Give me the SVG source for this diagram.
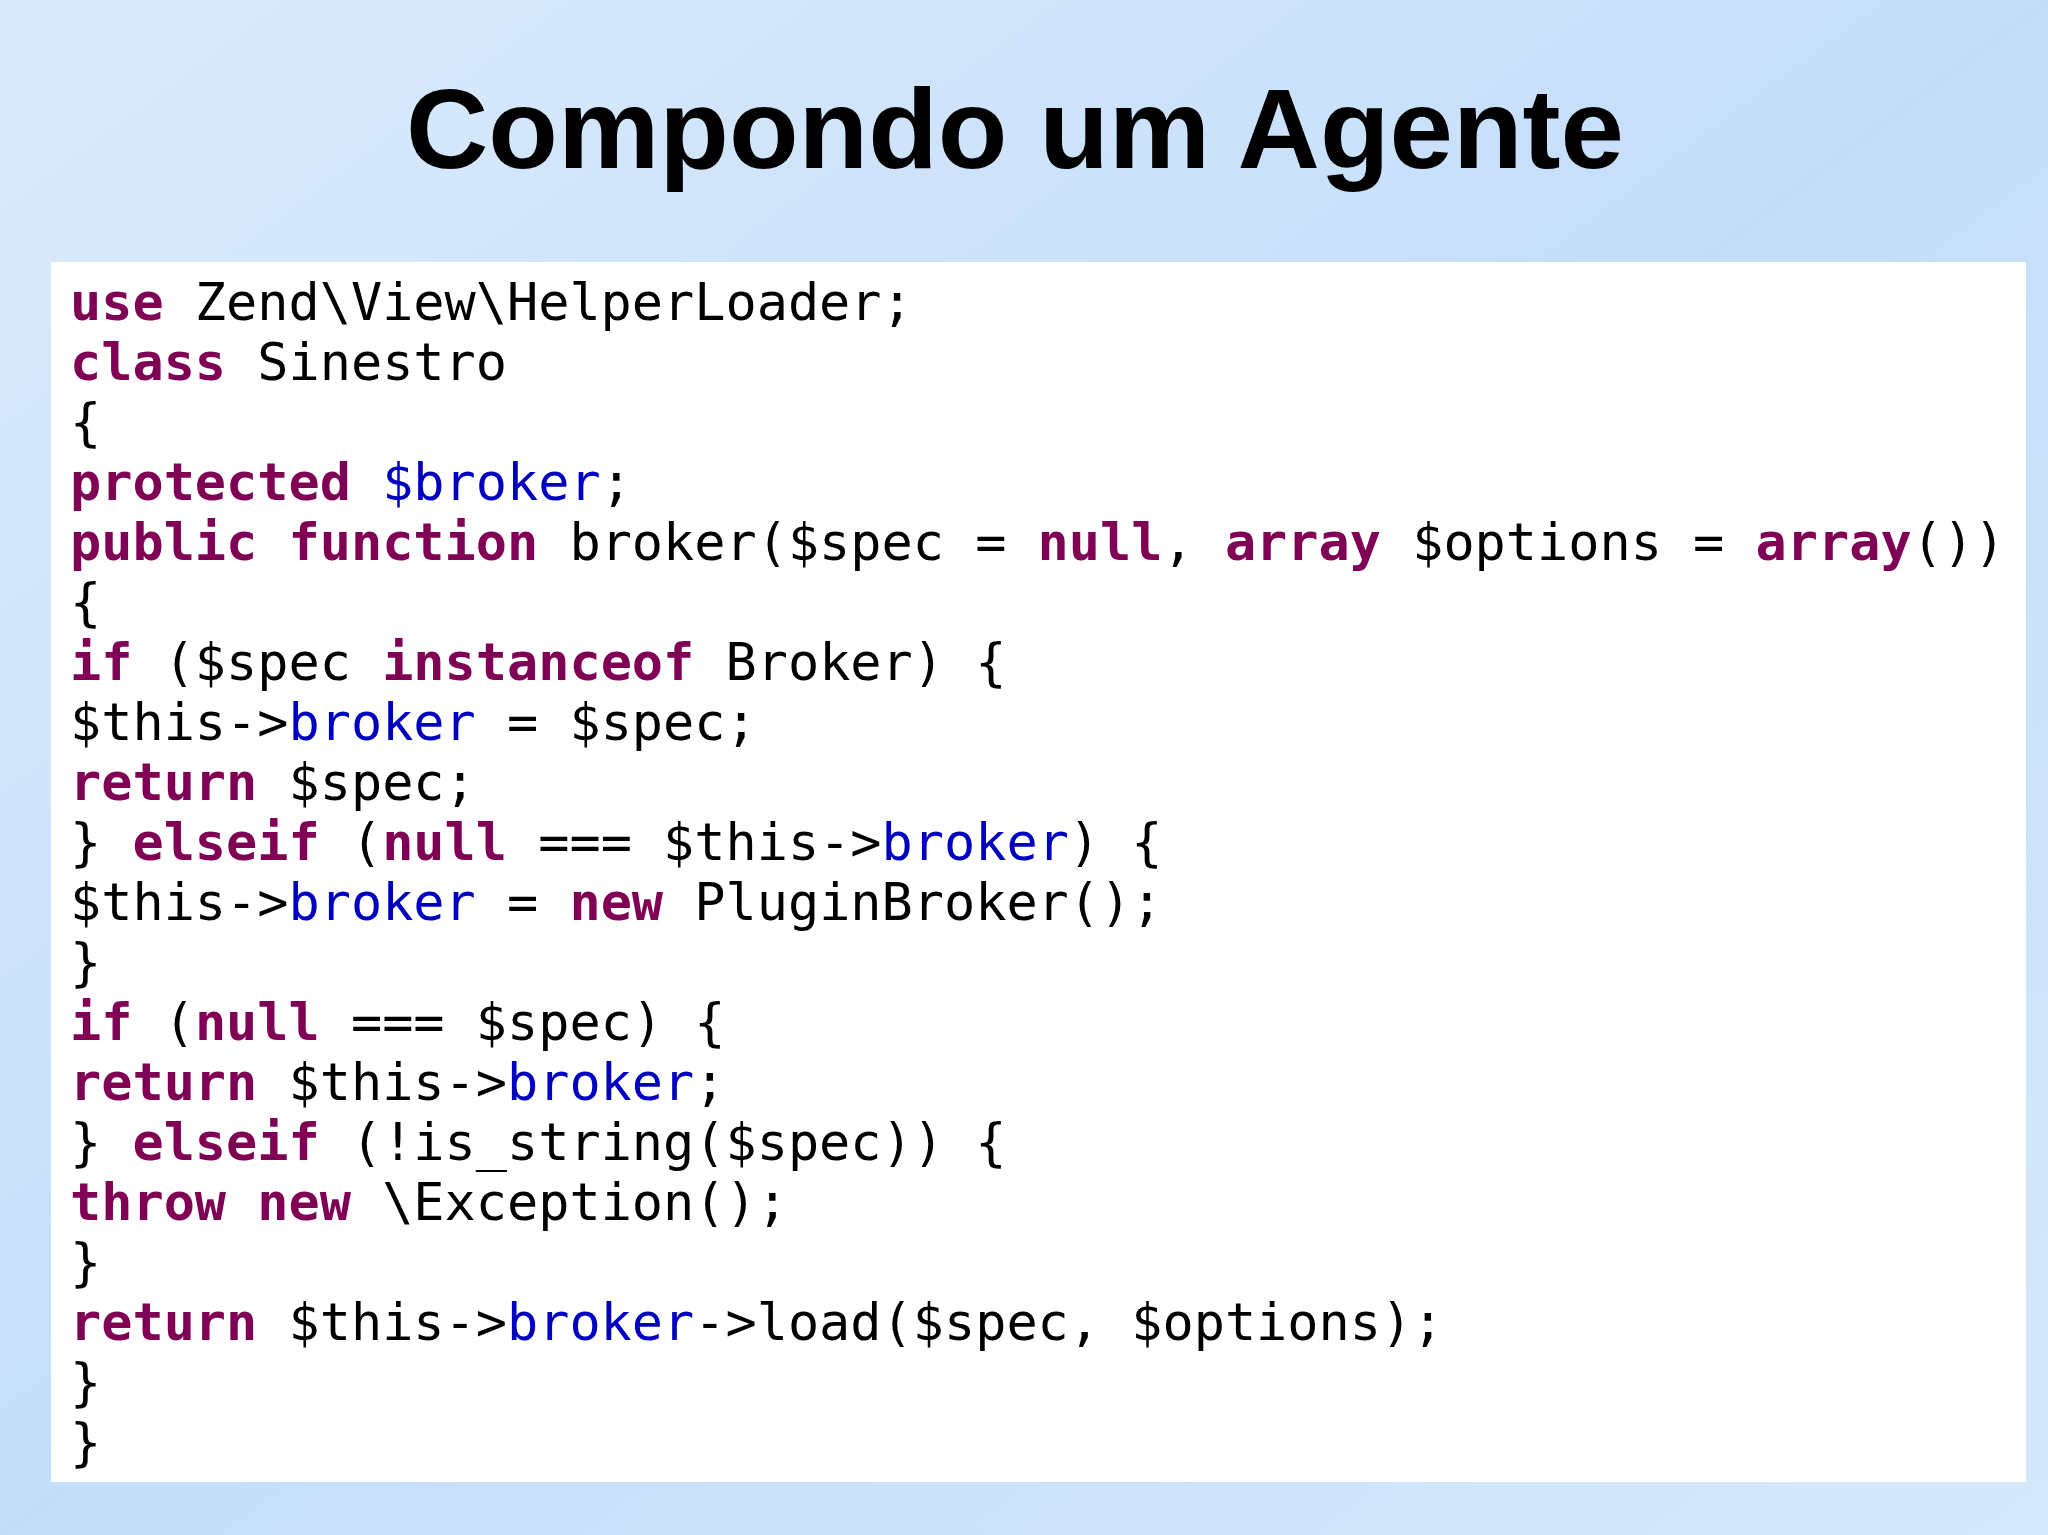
<svg xmlns="http://www.w3.org/2000/svg" width="2048" height="1535" viewBox="0 0 2048 1535">
<defs>
<linearGradient id="bg" x1="0" y1="0" x2="1" y2="1">
<stop offset="0" stop-color="#dcebfb"/><stop offset="0.5" stop-color="#c4defa"/><stop offset="1" stop-color="#d6e8fb"/>
</linearGradient>
<style>
.c{font-family:"DejaVu Sans Mono",monospace;font-size:51.85px;fill:#000;white-space:pre}
.k{fill:#7f0055;font-weight:bold}
.v{fill:#0000c0}
</style>
</defs>
<rect width="2048" height="1535" fill="url(#bg)"/>
<g id="title"><text x="1015" y="168" text-anchor="middle" font-family="Liberation Sans,Arial,sans-serif" font-weight="bold" font-size="114" fill="#000">Compondo um Agente</text></g>
<g id="code">
<rect x="51" y="262" width="1975" height="1220" fill="#fff"/>
<text class="c" x="70" y="320" xml:space="preserve"><tspan class="k">use</tspan> Zend\View\HelperLoader;</text>
<text class="c" x="70" y="380" xml:space="preserve"><tspan class="k">class</tspan> Sinestro</text>
<text class="c" x="70" y="440" xml:space="preserve">{</text>
<text class="c" x="70" y="500" xml:space="preserve"><tspan class="k">protected</tspan> <tspan class="v">$broker</tspan>;</text>
<text class="c" x="70" y="560" xml:space="preserve"><tspan class="k">public</tspan> <tspan class="k">function</tspan> broker($spec = <tspan class="k">null</tspan>, <tspan class="k">array</tspan> $options = <tspan class="k">array</tspan>())</text>
<text class="c" x="70" y="620" xml:space="preserve">{</text>
<text class="c" x="70" y="680" xml:space="preserve"><tspan class="k">if</tspan> ($spec <tspan class="k">instanceof</tspan> Broker) {</text>
<text class="c" x="70" y="740" xml:space="preserve">$this-&gt;<tspan class="v">broker</tspan> = $spec;</text>
<text class="c" x="70" y="800" xml:space="preserve"><tspan class="k">return</tspan> $spec;</text>
<text class="c" x="70" y="860" xml:space="preserve">} <tspan class="k">elseif</tspan> (<tspan class="k">null</tspan> === $this-&gt;<tspan class="v">broker</tspan>) {</text>
<text class="c" x="70" y="920" xml:space="preserve">$this-&gt;<tspan class="v">broker</tspan> = <tspan class="k">new</tspan> PluginBroker();</text>
<text class="c" x="70" y="980" xml:space="preserve">}</text>
<text class="c" x="70" y="1040" xml:space="preserve"><tspan class="k">if</tspan> (<tspan class="k">null</tspan> === $spec) {</text>
<text class="c" x="70" y="1100" xml:space="preserve"><tspan class="k">return</tspan> $this-&gt;<tspan class="v">broker</tspan>;</text>
<text class="c" x="70" y="1160" xml:space="preserve">} <tspan class="k">elseif</tspan> (!is_string($spec)) {</text>
<text class="c" x="70" y="1220" xml:space="preserve"><tspan class="k">throw</tspan> <tspan class="k">new</tspan> \Exception();</text>
<text class="c" x="70" y="1280" xml:space="preserve">}</text>
<text class="c" x="70" y="1340" xml:space="preserve"><tspan class="k">return</tspan> $this-&gt;<tspan class="v">broker</tspan>-&gt;load($spec, $options);</text>
<text class="c" x="70" y="1400" xml:space="preserve">}</text>
<text class="c" x="70" y="1460" xml:space="preserve">}</text>
</g>
</svg>
